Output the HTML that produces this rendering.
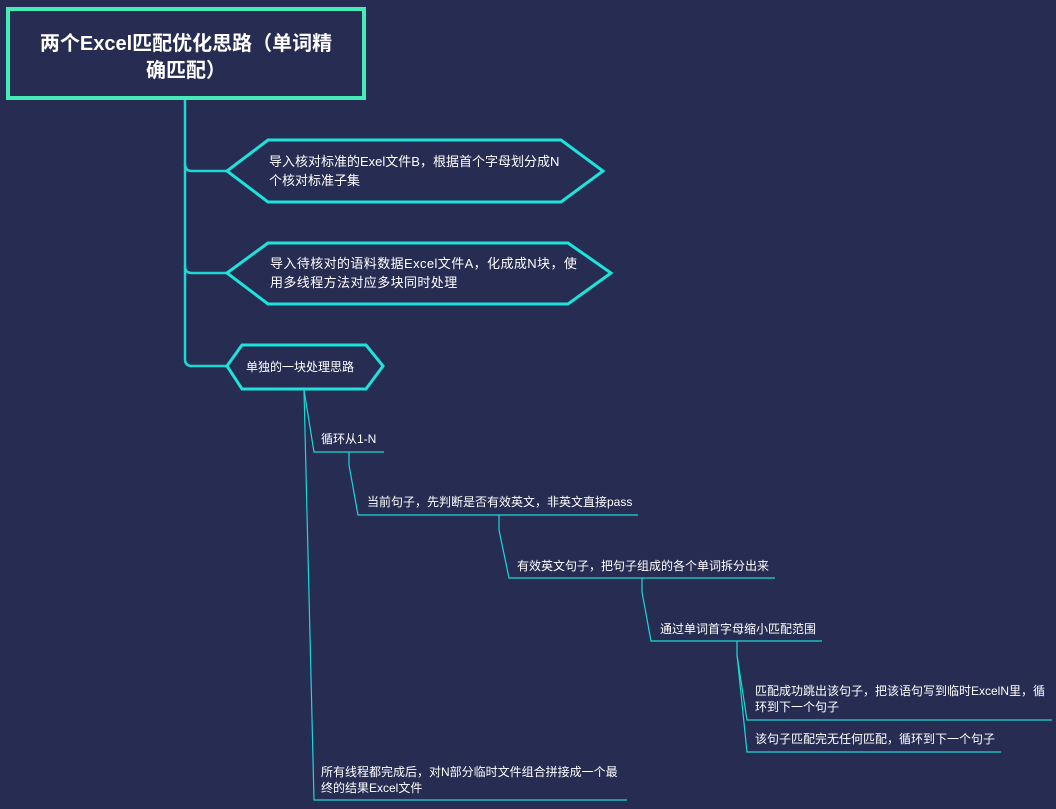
<!DOCTYPE html>
<html><head><meta charset="utf-8"><style>
html,body{margin:0;padding:0;background:#262c52;}
svg{display:block;}
text{font-family:"Liberation Sans","Noto Sans CJK SC",sans-serif;fill:#fff;}
</style></head><body>
<svg width="1056" height="809" viewBox="0 0 1056 809" xmlns="http://www.w3.org/2000/svg">
<rect width="1056" height="809" fill="#262c52"/>
<g fill="none" stroke="#1dd8d2" stroke-width="2.5">
<path d="M185 99 V164 Q185 171 192 171 H227"/>
<path d="M185 164 V266 Q185 273 192 273 H227"/>
<path d="M185 266 V359 Q185 366 192 366 H227"/>
</g>
<rect x="8" y="9" width="356" height="89" fill="#262c52" stroke="#45ecb8" stroke-width="4"/>
<text x="186" y="50" font-size="20" font-weight="bold" text-anchor="middle">两个Excel匹配优化思路（单词精</text>
<text x="186" y="77" font-size="20" font-weight="bold" text-anchor="middle">确匹配）</text>
<g fill="#262c52" stroke="#1de3da" stroke-width="3">
<polygon points="227,171 268,140 561,140 603,171 561,202 268,202"/>
<polygon points="227,273 268,243 568,243 611,273 568,304 268,304"/>
<polygon points="227,366 242,345 366,345 383,366 366,389 242,389"/>
</g>
<g font-size="13">
<text x="269" y="166">导入核对标准的Exel文件B，根据首个字母划分成N</text>
<text x="269" y="185">个核对标准子集</text>
<text x="270" y="268" letter-spacing="0.4">导入待核对的语料数据Excel文件A，化成成N块，使</text>
<text x="270" y="287" letter-spacing="0.4">用多线程方法对应多块同时处理</text>
</g>
<g font-size="12">
<text x="246" y="371">单独的一块处理思路</text>
</g>
<g fill="none" stroke="#1dd8d2" stroke-width="1.2">
<path d="M304 390 L314 452 H384"/>
<path d="M304 390 L314 800 H627"/>
<path d="M349 452 V465 L358 515 H638"/>
<path d="M499 515 V530 L509 578 H775"/>
<path d="M642 578 V592 L651 641 H822"/>
<path d="M737 641 V655 L747 720 H1052"/>
<path d="M737 655 L747 752 H1001"/>
</g>
<g font-size="12">
<text x="321" y="443">循环从1-N</text>
<text x="367" y="506">当前句子，先判断是否有效英文，非英文直接pass</text>
<text x="517" y="570">有效英文句子，把句子组成的各个单词拆分出来</text>
<text x="660" y="633">通过单词首字母缩小匹配范围</text>
<text x="755" y="695">匹配成功跳出该句子，把该语句写到临时ExcelN里，循</text>
<text x="755" y="711">环到下一个句子</text>
<text x="755" y="743">该句子匹配完无任何匹配，循环到下一个句子</text>
<text x="321" y="776">所有线程都完成后，对N部分临时文件组合拼接成一个最</text>
<text x="321" y="792">终的结果Excel文件</text>
</g>
</svg>
</body></html>
